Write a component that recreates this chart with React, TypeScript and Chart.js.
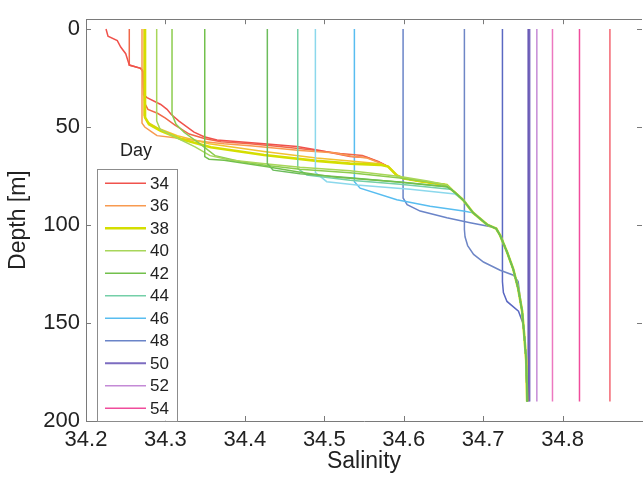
import React, { useEffect, useRef } from 'react';
import { Chart, registerables } from 'chart.js';

Chart.register(...registerables);

// ---------- axes ----------
const xTicks = [34.2, 34.3, 34.4, 34.5, 34.6, 34.7, 34.8];
const yTicks = [0, 50, 100, 150, 200];
const xRange = [34.2, 34.9];
const yRange = [-5, 200];

// ---------- shared deep part of the profiles (salinity, depth) ----------
const deepSal = [34.5804, 34.5914, 34.5992, 34.6207, 34.6543, 34.661, 34.6748, 34.6874, 34.705, 34.7164, 34.7214, 34.7302, 34.7378, 34.7441, 34.7491, 34.7516, 34.7542, 34.7554];
const deepDepth = [70.2, 74.7, 76.2, 77.7, 79.6, 82.2, 87.2, 93.8, 99.8, 101.8, 105.3, 113.9, 122.4, 132.4, 144.0, 155.5, 169.1, 190];

// ---------- individual profiles ----------
const p01Sal = [34.2252, 34.2277, 34.2394, 34.2437, 34.25, 34.2533, 34.2545, 34.2689, 34.2718, 34.2725, 34.2768, 34.2941, 34.302, 34.3071, 34.3171, 34.336, 34.3486, 34.365, 34.4242, 34.4657, 34.4947, 34.5325, 34.5539, 34.5703];
const p01Depth = [0, 3.7, 5.9, 9.2, 12.6, 16.8, 18.4, 20.1, 22, 33.5, 35, 38.5, 41, 43.5, 47, 52.6, 55, 56.6, 58.6, 60, 62, 65, 65.6, 68.2];
const p02Sal = [34.2545, 34.2545, 34.2689, 34.2718, 34.2725, 34.274, 34.278, 34.29, 34.3, 34.312, 34.33, 34.35, 34.37, 34.4065, 34.44, 34.48, 34.52, 34.548, 34.568];
const p02Depth = [0, 18.4, 20.1, 21.5, 30, 38, 41, 43, 45.5, 49, 53.6, 56, 57.5, 58.6, 59.8, 61.5, 63.5, 64.5, 67.6];
const p03Sal = [34.2705, 34.2705, 34.274, 34.2831, 34.2894, 34.3146, 34.3524, 34.3738, 34.4065, 34.44, 34.47, 34.5111, 34.5363, 34.5539, 34.5703];
const p03Depth = [0, 48, 50, 52.6, 54.4, 55.6, 57.6, 58.6, 59.6, 60.8, 62, 63.1, 65, 65.8, 68.4];
const p04Sal = [34.273, 34.273, 34.2775, 34.29, 34.315, 34.355, 34.424, 34.49, 34.5325, 34.5703];
const p04Depth = [0, 44, 47.5, 50.5, 54.5, 58.5, 62.5, 65.8, 67.3, 68.7];
const p05Sal = [34.2743, 34.2743, 34.2793, 34.2941, 34.3193, 34.3571, 34.4242, 34.4906, 34.5325, 34.5703];
const p05Depth = [0, 45.1, 48.6, 51.9, 56.1, 60.3, 64.3, 67.3, 68.7, 69.3];
const p06Sal = [34.289, 34.289, 34.2932, 34.3121, 34.3373, 34.3562, 34.3814, 34.4283, 34.4695, 34.5325, 34.5955, 34.63, 34.6543];
const p06Depth = [0, 46.9, 51.1, 55.1, 60.1, 64.6, 66.8, 68.9, 70.5, 72.3, 75.2, 77.5, 79.6];
const p07Sal = [34.3083, 34.3083, 34.3134, 34.3234, 34.3436, 34.3625, 34.394, 34.4283, 34.4695, 34.5325, 34.5955, 34.63, 34.6543];
const p07Depth = [0, 43.5, 48.6, 52.7, 58.6, 64.6, 67.6, 69.7, 71.5, 73.3, 76, 78, 79.6];
const p08Sal = [34.3495, 34.3495, 34.3549, 34.3738, 34.4283, 34.4657, 34.5157, 34.5955, 34.6543];
const p08Depth = [0, 65.1, 66.4, 67.0, 70.3, 72.8, 75.7, 78, 80.5];
const p09Sal = [34.4283, 34.4283, 34.4355, 34.4695, 34.5325, 34.5955, 34.6543];
const p09Depth = [0, 68.7, 72.0, 73.9, 75.9, 78.2, 80.5];
const p10Sal = [34.4666, 34.4666, 34.478, 34.5325, 34.5955, 34.6584];
const p10Depth = [0, 71.2, 74.5, 77.2, 79.2, 81.7];
const p11Sal = [34.4888, 34.4888, 34.5031, 34.5409, 34.6081, 34.6647];
const p11Depth = [0, 73.2, 77.9, 79.6, 81.7, 84.2];
const p12Sal = [34.5379, 34.5379, 34.5451, 34.5913, 34.6332, 34.6752];
const p12Depth = [0, 77.9, 81.2, 87.1, 90.4, 92.9];
const p13Sal = [34.5992, 34.5992, 34.6043, 34.6207, 34.6543, 34.6836, 34.713];
const p13Depth = [0, 86.2, 89.6, 92.9, 96.3, 98.8, 101.1];
const p14Sal = [34.6764, 34.6764, 34.6772, 34.6805, 34.6880, 34.7004, 34.7214, 34.7382, 34.7441, 34.746];
const p14Depth = [0, 102.3, 106.0, 110.5, 115.0, 118.9, 123.1, 125.6, 128.9, 135];
const p15Sal = [34.7243, 34.7243, 34.7255, 34.73, 34.7445, 34.75];
const p15Depth = [0, 128.9, 134.5, 139, 144, 150];
const p16Sal = [34.757, 34.757];
const p17Sal = [34.7583, 34.7583];
const p18Sal = [34.7676, 34.7676];
const p19Sal = [34.7873, 34.7873];
const p20Sal = [34.8213, 34.8213];
const p21Sal = [34.8596, 34.8596];
const mixedDepth = [0, 190];

const profileSal = [p01Sal, p02Sal, p03Sal, p04Sal, p05Sal, p06Sal, p07Sal, p08Sal, p09Sal, p10Sal, p11Sal, p12Sal, p13Sal, p14Sal, p15Sal, p16Sal, p17Sal, p18Sal, p19Sal, p20Sal, p21Sal];
const profileDepth = [p01Depth, p02Depth, p03Depth, p04Depth, p05Depth, p06Depth, p07Depth, p08Depth, p09Depth, p10Depth, p11Depth, p12Depth, p13Depth, p14Depth, p15Depth, mixedDepth, mixedDepth, mixedDepth, mixedDepth, mixedDepth, mixedDepth];

// ---------- legend ----------
const legendDays = ['34', '36', '38', '40', '42', '44', '46', '48', '50', '52', '54'];
const legendProfile = [0, 2, 4, 5, 7, 9, 11, 12, 16, 17, 19];

// ---------- styles ----------
const profileColors = ['#f0524c', '#f0684a', '#f89a50', '#f2c230', '#d4de00', '#a8d65a', '#8ccc4e', '#72c04c', '#6cbc5c', '#74cfa8', '#8cd8ec', '#58bdf0', '#6a84c8', '#6e86c6', '#5a68c2', '#6a5cb6', '#7c6cc0', '#c48ad6', '#ec78c0', '#f04c9c', '#f5808a'];
const profileWidths = [1.5, 1.5, 1.5, 1.5, 2.6, 1.5, 1.5, 1.5, 1.5, 1.5, 1.5, 1.5, 1.5, 1.5, 1.5, 2, 2, 1.5, 1.5, 1.5, 1.8];
// lower order = drawn on top
const profileOrder = [6, 6, 5, 4, 3, 1, 1, 0, 0, 2, 2, 7, 7, 8, 8, 9, 9, 9, 9, 9, 9];
const FONT = 'Liberation Sans, Arial, sans-serif';
const TEXT = '#222222';
const AXIS = '#7a7a7a';

function buildPoints(sal: number[], depth: number[]) {
  const pts = sal.map((s, i) => ({ x: s, y: depth[i] }));
  const last = depth[depth.length - 1];
  deepDepth.forEach((d, i) => {
    if (d > last) pts.push({ x: deepSal[i], y: d });
  });
  return pts;
}

const frameTicks = {
  id: 'frameTicks',
  afterDraw(chart: any) {
    const { ctx, chartArea: a } = chart;
    const xs = chart.scales.x;
    const ys = chart.scales.y;
    const L = 5;
    ctx.save();
    ctx.strokeStyle = AXIS;
    ctx.lineWidth = 1;
    ctx.beginPath();
    ctx.moveTo(a.left, Math.round(a.top) + 0.5);
    ctx.lineTo(a.right, Math.round(a.top) + 0.5);
    xTicks.forEach((v) => {
      const px = Math.round(xs.getPixelForValue(v)) + 0.5;
      ctx.moveTo(px, a.bottom);
      ctx.lineTo(px, a.bottom - L);
      ctx.moveTo(px, a.top);
      ctx.lineTo(px, a.top + L);
    });
    yTicks.forEach((v) => {
      const py = Math.round(ys.getPixelForValue(v)) + 0.5;
      ctx.moveTo(a.left, py);
      ctx.lineTo(a.left + L, py);
      ctx.moveTo(a.right, py);
      ctx.lineTo(a.right - L, py);
    });
    ctx.stroke();
    ctx.restore();
  },
};

const dayLegend = {
  id: 'dayLegend',
  afterDraw(chart: any) {
    const { ctx, chartArea: a } = chart;
    const boxL = a.left + 11;
    const boxT = a.top + 149.5;
    const boxW = 80;
    const rowH = 22.5;
    const boxH = 252;
    ctx.save();
    ctx.font = `18px ${FONT}`;
    ctx.fillStyle = TEXT;
    ctx.textAlign = 'center';
    ctx.textBaseline = 'middle';
    ctx.fillText('Day', boxL + 39, boxT - 18);
    ctx.fillStyle = '#ffffff';
    ctx.fillRect(boxL, boxT, boxW, boxH);
    ctx.strokeStyle = '#8c8c8c';
    ctx.lineWidth = 1;
    ctx.strokeRect(Math.round(boxL) + 0.5, Math.round(boxT) + 0.5, boxW, boxH);
    ctx.font = `17px ${FONT}`;
    ctx.textAlign = 'left';
    legendDays.forEach((day, i) => {
      const y = boxT + 14.5 + i * rowH;
      const idx = legendProfile[i];
      ctx.strokeStyle = profileColors[idx];
      ctx.lineWidth = profileWidths[idx];
      ctx.beginPath();
      ctx.moveTo(boxL + 8, y);
      ctx.lineTo(boxL + 49, y);
      ctx.stroke();
      ctx.fillStyle = TEXT;
      ctx.fillText(day, boxL + 53, y + 1);
    });
    ctx.restore();
  },
};

export default function App() {
  const ref = useRef<HTMLCanvasElement | null>(null);
  useEffect(() => {
    if (!ref.current) return;
    const datasets = profileSal.map((sal, i) => ({
      label: 'p' + i,
      data: buildPoints(sal, profileDepth[i]),
      showLine: true,
      order: profileOrder[i],
      borderColor: profileColors[i],
      backgroundColor: profileColors[i],
      borderWidth: profileWidths[i],
      pointRadius: 0,
      tension: 0,
      fill: false,
    }));
    const chart = new Chart(ref.current, {
      type: 'scatter',
      data: { datasets },
      options: {
        animation: false,
        responsive: false,
        layout: { padding: { top: 14, right: 1, left: 0, bottom: 0 } },
        plugins: { legend: { display: false }, tooltip: { enabled: false } },
        scales: {
          x: {
            type: 'linear',
            position: 'bottom',
            min: xRange[0],
            max: xRange[1],
            afterBuildTicks: (s: any) => {
              s.ticks = xTicks.map((v) => ({ value: v }));
            },
            afterFit: (s: any) => {
              s.height = 56;
            },
            grid: { display: false, drawTicks: false },
            border: { display: true, color: AXIS, width: 1 },
            ticks: {
              autoSkip: false,
              maxRotation: 0,
              padding: 6,
              color: TEXT,
              font: { family: FONT, size: 22 },
              callback: (v: any) => Number(v).toFixed(1),
            },
            title: {
              display: true,
              text: 'Salinity',
              color: TEXT,
              font: { family: FONT, size: 23 },
              padding: { top: 0, bottom: 2 },
            },
          },
          y: {
            type: 'linear',
            position: 'left',
            reverse: true,
            min: yRange[0],
            max: yRange[1],
            afterBuildTicks: (s: any) => {
              s.ticks = yTicks.map((v) => ({ value: v }));
            },
            afterFit: (s: any) => {
              s.width = 86;
            },
            grid: { display: false, drawTicks: false },
            border: { display: true, color: AXIS, width: 1 },
            ticks: {
              padding: 6,
              color: TEXT,
              font: { family: FONT, size: 22 },
            },
            title: {
              display: true,
              text: 'Depth [m]',
              color: TEXT,
              font: { family: FONT, size: 23 },
              padding: { top: 5, bottom: 0 },
            },
          },
        },
      },
      plugins: [frameTicks, dayLegend],
    });
    return () => chart.destroy();
  }, []);
  return (
    <div style={{ position: 'absolute', left: 0, top: 0, width: 643, height: 477, background: '#fff' }}>
      <canvas ref={ref} width={643} height={477} style={{ width: 643, height: 477, display: 'block' }} />
    </div>
  );
}
